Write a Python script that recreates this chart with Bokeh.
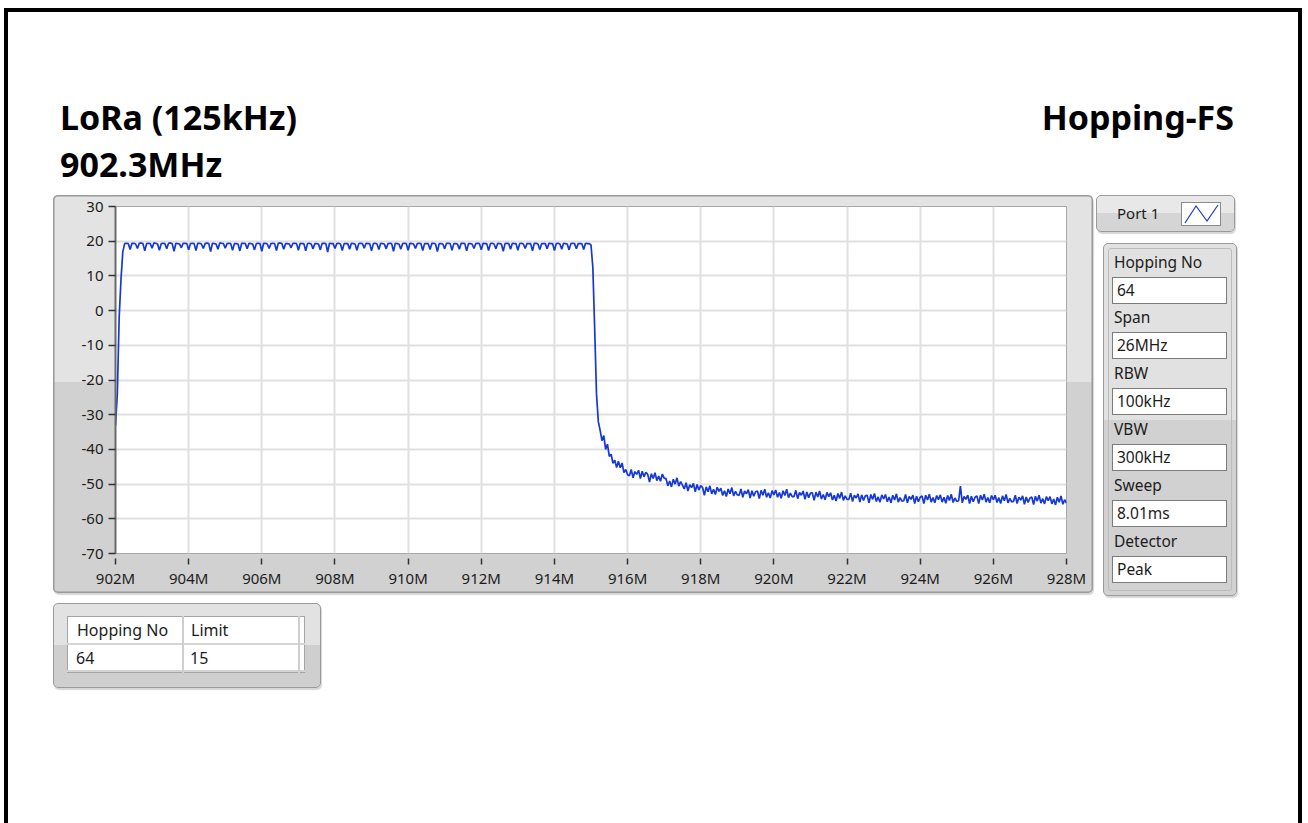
import numpy as np
from bokeh.plotting import figure
from bokeh.layouts import row, column
from bokeh.models import Range1d, SingleIntervalTicker, PrintfTickFormatter, Div
from bokeh.embed import file_html
from bokeh.resources import INLINE

# ---------------- data ----------------
freq_start_mhz = 902.0
freq_step_mhz = 0.05

# 902.00 .. 902.20 MHz
rise_dbm = [-33.0, -24.0, -2.0, 9.0, 17.0]

# 902.25 .. 914.95 MHz  (flat top with dips between 200 kHz channels)
inband_dbm = [
    19.3, 19.4, 19.3, 17.6,
    19.4, 19.4, 19.2, 17.9,
    19.4, 19.5, 19.3, 17.2,
    19.3, 19.4, 19.3, 18.0,
    19.5, 19.4, 19.2, 17.4,
    19.3, 19.4, 19.3, 17.8,
    19.4, 19.5, 19.3, 17.1,
    19.4, 19.3, 19.2, 18.1,
    19.4, 19.4, 19.3, 17.5,
    19.3, 19.4, 19.3, 17.3,
    19.4, 19.4, 19.2, 17.9,
    19.3, 19.5, 19.3, 17.0,
    19.4, 19.3, 19.2, 17.7,
    19.5, 19.4, 19.3, 18.0,
    19.3, 19.4, 19.3, 17.4,
    19.3, 19.3, 19.2, 17.2,
    19.4, 19.4, 19.3, 17.8,
    19.4, 19.3, 19.2, 17.5,
    19.3, 19.4, 19.3, 17.1,
    19.4, 19.4, 19.2, 17.9,
    19.3, 19.4, 19.3, 17.3,
    19.4, 19.5, 19.3, 17.7,
    19.3, 19.3, 19.2, 18.1,
    19.4, 19.4, 19.3, 17.4,
    19.4, 19.3, 19.3, 17.2,
    19.3, 19.4, 19.2, 17.8,
    19.3, 19.3, 19.2, 17.5,
    19.4, 19.4, 19.3, 16.9,
    19.4, 19.3, 19.3, 17.9,
    19.3, 19.4, 19.2, 17.3,
    19.3, 19.3, 19.3, 17.7,
    19.4, 19.3, 19.2, 17.4,
    19.3, 19.4, 19.3, 18.0,
    19.4, 19.3, 19.3, 17.2,
    19.3, 19.4, 19.2, 17.6,
    19.4, 19.3, 19.2, 17.8,
    19.3, 19.4, 19.3, 17.1,
    19.4, 19.3, 19.2, 17.7,
    19.3, 19.4, 19.3, 17.4,
    19.4, 19.3, 19.2, 17.9,
    19.3, 19.4, 19.3, 17.3,
    19.3, 19.3, 19.3, 17.6,
    19.4, 19.4, 19.2, 17.0,
    19.3, 19.3, 19.2, 17.8,
    19.4, 19.4, 19.3, 17.4,
    19.3, 19.3, 19.2, 17.7,
    19.4, 19.4, 19.3, 17.2,
    19.3, 19.3, 19.2, 17.9,
    19.3, 19.4, 19.3, 17.5,
    19.4, 19.3, 19.3, 17.3,
    19.3, 19.4, 19.2, 17.8,
    19.4, 19.3, 19.2, 17.1,
    19.3, 19.4, 19.3, 17.7,
    19.4, 19.3, 19.3, 17.4,
    19.3, 19.4, 19.2, 17.9,
    19.3, 19.3, 19.3, 17.2,
    19.4, 19.4, 19.2, 17.6,
    19.3, 19.3, 19.3, 17.8,
    19.4, 19.3, 19.3, 17.3,
    19.3, 19.4, 19.2, 17.7,
    19.4, 19.3, 19.2, 17.5,
    19.3, 19.4, 19.3, 17.8,
    19.3, 19.3, 19.3, 17.6,
    19.4, 19.3, 19.3,
]

# 915.00 .. 915.50 MHz
rolloff_dbm = [18.9, 12.5, -5.0, -24.0, -32.0, -34.5, -37.5, -36.0, -40.0, -38.5, -42.0]

# 915.55 .. 928.00 MHz
floor_dbm = [
    -41.4, -44.0, -43.1, -45.2, -43.4, -45.3, -43.9, -46.7, -45.8, -47.3,
    -47.6, -45.8, -48.2, -46.4, -47.2, -46.0, -48.4, -46.3, -47.9, -46.6,
    -47.2, -49.4, -47.0, -48.4, -46.7, -49.0, -47.7, -49.2, -47.1, -48.3,
    -48.4, -50.5, -49.1, -50.8, -48.6, -50.0, -48.2, -50.6, -49.3, -50.3,
    -51.4, -49.6, -52.0, -50.2, -51.0, -49.8, -52.2, -50.1, -51.7, -50.4,
    -51.0, -53.2, -50.8, -52.2, -50.5, -52.8, -51.5, -53.0, -50.9, -52.1,
    -51.2, -53.3, -51.9, -53.6, -51.4, -52.8, -51.0, -53.4, -52.1, -53.1,
    -53.2, -51.4, -53.8, -52.0, -52.8, -51.6, -54.0, -51.9, -53.5, -52.2,
    -52.0, -54.2, -51.8, -53.2, -51.5, -53.8, -52.5, -54.0, -51.9, -53.1,
    -51.7, -53.8, -52.4, -54.1, -51.9, -53.3, -51.5, -53.9, -52.6, -53.6,
    -53.6, -51.8, -54.2, -52.4, -53.2, -52.0, -54.4, -52.3, -53.9, -52.6,
    -52.5, -54.7, -52.3, -53.7, -52.0, -54.3, -53.0, -54.5, -52.4, -53.6,
    -52.5, -54.6, -53.2, -54.9, -52.7, -54.1, -52.3, -54.7, -53.4, -54.4,
    -54.4, -52.6, -55.0, -53.2, -54.0, -52.8, -55.2, -53.1, -54.7, -53.4,
    -53.2, -55.4, -53.0, -54.4, -52.7, -55.0, -53.7, -55.2, -53.1, -54.3,
    -53.0, -55.1, -53.7, -55.4, -53.2, -54.6, -52.8, -55.2, -53.9, -54.9,
    -54.8, -53.0, -55.4, -53.6, -54.4, -53.2, -55.6, -53.5, -55.1, -53.8,
    -53.4, -55.6, -53.2, -54.6, -52.9, -55.2, -53.9, -55.4, -53.3, -54.5,
    -53.1, -55.2, -53.8, -55.5, -53.3, -54.7, -52.9, -55.3, -54.0, -55.0,
    -54.8, -50.6, -55.4, -53.6, -54.4, -53.2, -55.6, -53.5, -55.1, -53.8,
    -53.4, -55.6, -53.2, -54.6, -52.9, -55.2, -53.9, -55.4, -53.3, -54.5,
    -53.2, -55.3, -53.9, -55.6, -53.4, -54.8, -53.0, -55.4, -54.1, -55.1,
    -55.0, -53.2, -55.6, -53.8, -54.6, -53.4, -55.8, -53.7, -55.3, -54.0,
    -53.7, -55.9, -53.5, -54.9, -53.2, -55.5, -54.2, -55.7, -53.6, -54.8,
    -53.6, -55.7, -54.3, -56.0, -53.8, -55.2, -53.4, -55.8, -54.5, -55.5,
]

x_min_mhz, x_max_mhz, x_tick_mhz = 902, 928, 2
y_min_db, y_max_db, y_tick_db = -70, 30, 10

title_lines = ["LoRa (125kHz)", "902.3MHz"]
mode_title = "Hopping-FS"
legend_label = "Port 1"
param_names = ["Hopping No", "Span", "RBW", "VBW", "Sweep", "Detector"]
param_values = ["64", "26MHz", "100kHz", "300kHz", "8.01ms", "Peak"]
table_headers = ["Hopping No", "Limit"]
table_values = ["64", "15"]

level_dbm = rise_dbm + inband_dbm + rolloff_dbm + floor_dbm
freq_mhz = freq_start_mhz + freq_step_mhz * np.arange(len(level_dbm))

# ---------------- styling constants ----------------
FONT = "Noto Sans"
TXT = "#1c1c1c"
TRACE = "#1538d6"
PANEL_LINE = "#9a9a9a"

# ---------------- chart figure (the grey graph panel) ----------------
PW, PH = 1040, 398
p = figure(width=PW, height=PH,
           x_range=Range1d(x_min_mhz, x_max_mhz), y_range=Range1d(y_min_db, y_max_db),
           min_border_left=62, min_border_right=27, min_border_top=11, min_border_bottom=40,
           toolbar_location=None, output_backend="svg")
p.margin = 0
p.border_fill_color = None
p.border_fill_alpha = 0
p.background_fill_color = "white"
p.outline_line_color = "#a8a8a8"
p.outline_line_width = 1
p.styles = {
    "background": "linear-gradient(to bottom, #e3e3e3 0px, #e3e3e3 187px, #d1d1d1 187px, #d1d1d1 100%)",
    "border-radius": "5px",
    "box-shadow": f"inset 0 0 0 1.5px {PANEL_LINE}, 1px 2px 1px #d6d6d6",
}

xt = SingleIntervalTicker(interval=x_tick_mhz)
yt = SingleIntervalTicker(interval=y_tick_db)

xa = p.xaxis[0]
xa.ticker = xt
xa.formatter = PrintfTickFormatter(format="%dM")
xa.axis_line_color = None
xa.major_tick_in = -5
xa.major_tick_out = 11
xa.major_tick_line_color = "#333333"
xa.major_tick_line_width = 1.5
xa.minor_tick_line_color = None
xa.major_label_standoff = 3
xa.major_label_text_font = FONT
xa.major_label_text_font_size = "15px"
xa.major_label_text_color = TXT

ya = p.yaxis[0]
ya.ticker = yt
ya.formatter = PrintfTickFormatter(format="%d")
ya.axis_line_color = "#6a6a6a"
ya.axis_line_width = 2
ya.major_tick_in = 0
ya.major_tick_out = 7
ya.major_tick_line_color = "#333333"
ya.major_tick_line_width = 1.5
ya.minor_tick_line_color = None
ya.major_label_standoff = 5
ya.major_label_text_font = FONT
ya.major_label_text_font_size = "15px"
ya.major_label_text_color = TXT

p.xgrid.ticker = xt
p.ygrid.ticker = yt
p.grid.grid_line_color = "#e0e0e0"
p.grid.grid_line_width = 2

p.line(freq_mhz, level_dbm, line_color=TRACE, line_width=1.7)


# ---------------- HTML decorations ----------------
def hbox(l, t, w, h, style=""):
    return (f'<div style="position:absolute;left:{l}px;top:{t}px;width:{w}px;height:{h}px;'
            f'box-sizing:border-box;{style}"></div>')


def htext(l, t, s, size=15, weight="normal", extra=""):
    return (f'<div style="position:absolute;left:{l}px;top:{t}px;font-size:{size}px;line-height:1;'
            f'font-weight:{weight};white-space:nowrap;{extra}">{s}</div>')


def wrap(w, h, inner):
    return (f'<div style="position:relative;width:{w}px;height:{h}px;overflow:visible;'
            f'font-family:{FONT};color:{TXT};">{inner}</div>')


BLACK = "background:#000;"
PANEL = (f"border:1.5px solid {PANEL_LINE};border-radius:5px;"
         "box-shadow:1px 2px 1px #d6d6d6;")

# header (page y 0..195)
head = ""
head += hbox(4, 8, 4, 187, BLACK)
head += hbox(4, 8, 1298, 4, BLACK)
head += hbox(1298, 8, 4, 187, BLACK)
head += htext(60, 100, title_lines[0], size=34, weight="bold", extra="color:#000;")
head += htext(60, 147, title_lines[1], size=34, weight="bold", extra="color:#000;")
head += (f'<div style="position:absolute;right:74px;top:100px;font-size:34px;line-height:1;'
         f'font-weight:bold;white-space:nowrap;color:#000;">{mode_title}</div>')
header = Div(text=wrap(1308, 195, head), width=1308, height=195, margin=0)

# left strip (page x 0..53, y 195..598)
left = Div(text=wrap(53, 403, hbox(4, 0, 4, 403, BLACK)), width=53, height=403, margin=0)

# right side (page x 1093..1308, y 195..598)
rs = ""
rs += hbox(205, 0, 4, 403, BLACK)
rs += hbox(3, 0, 139, 37, PANEL + "background:linear-gradient(#e8e8e8 0px,#e8e8e8 17px,#d5d5d5 17px,#d5d5d5 100%);")
rs += htext(24, 11, legend_label)
rs += ('<div style="position:absolute;left:88px;top:7px;width:40px;height:24px;box-sizing:border-box;'
       'background:#fff;border:1px solid #8a8a8a;">'
       f'<svg width="38" height="22" style="position:absolute;left:0;top:0">'
       f'<polyline points="3,20 14,3 25,18 36,2" fill="none" stroke="{TRACE}" stroke-width="1.2"/></svg></div>')
rs += hbox(10, 48, 134, 353, PANEL + "background:linear-gradient(#e1e1e1 0px,#e1e1e1 176px,#d1d1d1 176px,#d1d1d1 100%);")
rs += hbox(15, 53, 124, 343, "border:1px solid #bdbdbd;border-radius:3px;")
label_cy = [68, 123, 179, 235, 291, 347]
for cy, name, val in zip(label_cy, param_names, param_values):
    rs += htext(21, cy - 8, name, size=15.5)
    rs += hbox(19, cy + 14, 115, 27, "background:#fff;border:1.5px solid #7c7c7c;")
    rs += htext(24, cy + 20, val, size=15.5)
right = Div(text=wrap(215, 403, rs), width=215, height=403, margin=0)

# bottom (page y 598..823)
bt = ""
bt += hbox(4, 0, 4, 225, BLACK)
bt += hbox(1298, 0, 4, 225, BLACK)
bt += hbox(53, 5, 268, 85, PANEL + "background:linear-gradient(#e2e2e2 0px,#e2e2e2 41px,#cfcfcf 41px,#cfcfcf 100%);")
bt += hbox(67, 18, 238, 57, "background:#fff;border:1px solid #a5a5a5;")
bt += hbox(67, 45, 238, 2, "background:#d4d4d4;")
bt += hbox(67, 72, 238, 1.5, "background:#d4d4d4;")
bt += hbox(182, 18, 1.5, 57, "background:#cfcfcf;")
bt += hbox(298, 18, 1.5, 57, "background:#cfcfcf;")
for cx, hdr, val in zip([77, 191], table_headers, table_values):
    bt += htext(cx, 24, hdr, size=16)
    bt += htext(cx - 1, 52, val, size=16)
bottom = Div(text=wrap(1308, 225, bt), width=1308, height=225, margin=0)

mid = row(left, p, right, spacing=0)
page = column(header, mid, bottom, spacing=0)

open("out.html", "w").write(file_html(page, INLINE))
